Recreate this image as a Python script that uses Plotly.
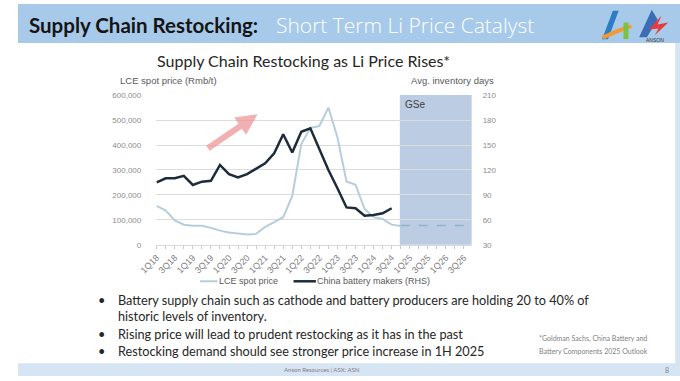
import plotly.graph_objects as go

# ---------------- data ----------------
quarters = ["1Q18", "2Q18", "3Q18", "4Q18", "1Q19", "2Q19", "3Q19", "4Q19",
            "1Q20", "2Q20", "3Q20", "4Q20", "1Q21", "2Q21", "3Q21", "4Q21",
            "1Q22", "2Q22", "3Q22", "4Q22", "1Q23", "2Q23", "3Q23", "4Q23",
            "1Q24", "2Q24", "3Q24", "4Q24", "1Q25", "2Q25", "3Q25", "4Q25",
            "1Q26", "2Q26", "3Q26", "4Q26"]
x_tick_labels = ["1Q18", "", "3Q18", "", "1Q19", "", "3Q19", "",
                 "1Q20", "", "3Q20", "", "1Q21", "", "3Q21", "",
                 "1Q22", "", "3Q22", "", "1Q23", "", "3Q23", "",
                 "1Q24", "", "3Q24", "", "1Q25", "", "3Q25", "",
                 "1Q26", "", "3Q26", ""]
lce_spot_price = [156000, 137000, 98000, 81000, 77000, 77000, 68000, 57000,
                  50000, 46000, 42000, 44000, 72000, 91000, 111000, 196000,
                  404000, 469000, 476000, 550000, 430000, 254000, 241000, 144000,
                  111000, 104000, 81000, 76000]
lce_forecast_quarters = ["4Q24", "1Q25", "2Q25", "3Q25", "4Q25", "1Q26", "2Q26", "3Q26", "4Q26"]
lce_forecast = [78000, 78000, 78000, 78000, 78000, 78000, 78000, 78000, 78000]
inventory_days = [105, 110, 110, 113, 102, 106, 107, 126, 115, 111, 115, 122,
                  128, 140, 163, 141, 166, 170, 144, 120, 98, 75, 74, 65,
                  66, 68, 74]
left_ticks = [0, 100000, 200000, 300000, 400000, 500000, 600000]
right_ticks = [30, 60, 90, 120, 150, 180, 210]

W, H = 680, 381
def px(x): return x / W
def py(y): return 1 - y / H

ARIAL = "Liberation Sans, Arial, sans-serif"
LATO = "Lato, Open Sans, sans-serif"
OPEN = "Open Sans, Lato, sans-serif"

fig = go.Figure()
fig.add_trace(go.Scatter(x=quarters[:len(lce_spot_price)], y=lce_spot_price, mode="lines",
                         line=dict(color="#b6cedc", width=2), name="LCE spot price",
                         yaxis="y", showlegend=False))
fig.add_trace(go.Scatter(x=lce_forecast_quarters, y=lce_forecast, mode="lines",
                         line=dict(color="#8fb2d2", width=1.5, dash="dash"),
                         yaxis="y", showlegend=False))
fig.add_trace(go.Scatter(x=quarters[:len(inventory_days)], y=inventory_days, mode="lines",
                         line=dict(color="#1e2b3b", width=2.5), name="China battery makers (RHS)",
                         yaxis="y2", showlegend=False))

shapes = []
annotations = []

shapes.append(dict(type="rect", xref="paper", yref="paper", x0=0, x1=1, y0=py(40), y1=1,
                   fillcolor="#a8caea", line=dict(width=0), layer="below"))
shapes.append(dict(type="rect", xref="paper", yref="paper", x0=0, x1=1, y0=0, y1=py(368),
                   fillcolor="#d6e5f4", line=dict(width=0), layer="below"))
shapes.append(dict(type="rect", xref="paper", yref="paper", x0=px(675), x1=1, y0=0, y1=py(40),
                   fillcolor="#d6e5f4", line=dict(width=0), layer="below"))
shapes.append(dict(type="rect", xref="x", yref="y", x0=26.9, x1=34.9, y0=0, y1=600000,
                   fillcolor="#bccde3", line=dict(width=0), layer="below"))
shapes.append(dict(type="line", xref="paper", yref="paper", x0=px(187), x1=px(205),
                   y0=py(284), y1=py(284), line=dict(color="#b6cedc", width=2)))
shapes.append(dict(type="line", xref="paper", yref="paper", x0=px(283), x1=px(306),
                   y0=py(284), y1=py(284), line=dict(color="#1e2b3b", width=2.5)))

def poly(pts, color):
    d = "M " + " L ".join(f"{px(x)},{py(y)}" for x, y in pts) + " Z"
    shapes.append(dict(type="path", xref="paper", yref="paper", path=d,
                       fillcolor=color, line=dict(width=0)))
poly([(600, 36), (611, 7), (617, 7), (606, 36)], "#2f7cc5")
poly([(599, 33), (614, 26), (629, 21), (631, 24), (616, 30), (602, 36)], "#f29a35")
poly([(622, 19), (627, 19), (627, 36), (622, 36)], "#7cc143")
poly([(638, 34), (651, 6), (657, 16), (646, 34)], "#3a6db5")
poly([(648, 26), (661, 12), (657, 21), (668, 19), (654, 32), (658, 25)], "#e63a3f")

def note(x, y, text, family, size, color, anchor="left", weight=None):
    f = dict(family=family, size=size, color=color)
    if weight:
        f["weight"] = weight
    annotations.append(dict(x=px(x), y=py(y), xref="paper", yref="paper", showarrow=False,
                            xanchor=anchor, yanchor="middle", text=text, font=f,
                            borderpad=0, borderwidth=0))

note(11, 21, "<b>Supply Chain Restocking:</b>", LATO, 20.5, "#141414")
note(265, 21, "Short Term Li Price Catalyst", OPEN, 21, "#ffffff", weight=300)
note(654, 37, "ANSON", ARIAL, 5, "#333333", anchor="center")
note(293, 58, "Supply Chain Restocking as Li Price Rises*", LATO, 16, "#262626", anchor="center")
note(105, 78, "LCE spot price (Rmb/t)", ARIAL, 9.5, "#595959")
note(489, 78, "Avg. inventory days", ARIAL, 9.5, "#595959", anchor="right")
note(398, 103, "GSe", ARIAL, 10, "#404040")
note(206, 284, "LCE spot price", ARIAL, 9, "#595959")
note(307, 284, "China battery makers (RHS)", ARIAL, 9, "#595959")

annotations.append(dict(x=px(246), y=py(113), xref="paper", yref="paper", showarrow=True,
                        ax=-51, ay=35, axref="pixel", ayref="pixel", text="",
                        arrowhead=2, arrowsize=0.7, arrowwidth=6,
                        arrowcolor="rgba(238,150,150,0.75)"))

bullets = [("•", "Battery supply chain such as cathode and battery producers are holding 20 to 40% of", 303),
           ("", "historic levels of inventory.", 320),
           ("•", "Rising price will lead to prudent restocking as it has in the past", 338),
           ("•", "Restocking demand should see stronger price increase in 1H 2025", 355)]
for b, t, yy in bullets:
    if b:
        note(82, yy, b, LATO, 12.7, "#262626")
    note(103, yy, t, LATO, 12.7, "#262626")

note(535, 343, "*Goldman Sachs, China Battery and", LATO, 7, "#7f7f7f")
note(535, 355, "Battery Components 2025 Outlook", LATO, 7, "#7f7f7f")
note(312, 374, "Anson Resources | ASX: ASN", LATO, 6, "#7f7f7f", anchor="center")
note(667, 375, "8", LATO, 7, "#7f7f7f", anchor="center")

fig.update_layout(
    width=W, height=H, autosize=False,
    margin=dict(l=0, r=0, t=0, b=0, pad=0),
    paper_bgcolor="#ffffff", plot_bgcolor="rgba(0,0,0,0)",
    showlegend=False,
    shapes=shapes, annotations=annotations,
    xaxis=dict(domain=[px(142), px(466)], type="category", categoryorder="array",
               categoryarray=quarters, range=[-0.05, 34.85],
               tickmode="array", tickvals=quarters, ticktext=x_tick_labels,
               tickangle=-45, ticks="outside", ticklen=3, tickcolor="#c8c8c8",
               showline=True, linecolor="#d9d9d9", linewidth=1, showgrid=False,
               tickfont=dict(family=ARIAL, size=9, color="#7f7f7f"), anchor="y"),
    yaxis=dict(domain=[py(246.7), py(93.3)], range=[0, 600000], tickmode="array",
               tickvals=left_ticks, tickformat=",", showgrid=True, gridcolor="#dcdcdc",
               gridwidth=1, zeroline=False, showline=False, ticks="",
               ticklabelstandoff=14,
               tickfont=dict(family=ARIAL, size=8, color="#8c8c8c"), anchor="x"),
    yaxis2=dict(overlaying="y", side="right", range=[30, 210], tickmode="array",
                tickvals=right_ticks, showgrid=False, zeroline=False, showline=False,
                ticks="", ticklabelstandoff=10, anchor="x",
                tickfont=dict(family=ARIAL, size=8, color="#8c8c8c")),
)

fig.write_html("out.html", config={"displayModeBar": False},
               post_script="document.body.style.margin='0';document.body.style.overflow='hidden';")
